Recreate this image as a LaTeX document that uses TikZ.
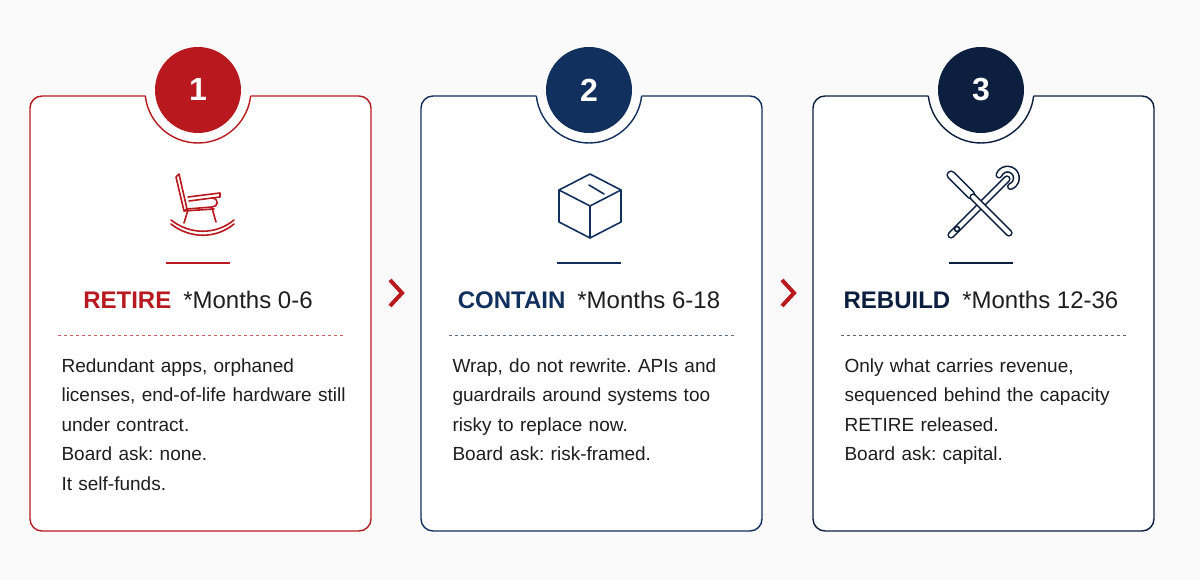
\documentclass[tikz,border=0pt]{standalone}
\usepackage{fontspec}
\setmainfont{Liberation Sans}
\definecolor{retRed}{HTML}{B8191E}
\definecolor{conBlue}{HTML}{12305E}
\definecolor{rebBlue}{HTML}{0C1F3E}
\definecolor{bodyGray}{HTML}{1E1E1E}
\definecolor{pageBg}{HTML}{FAFAFB}
\frenchspacing
\begin{document}
\begin{tikzpicture}[x=1pt,y=1pt,
  card/.style={line width=1.4pt, fill=white},
  badge/.style={circle, minimum size=86pt, inner sep=0pt, text=white, font=\fontsize{32}{32}\selectfont\bfseries},
  heading/.style={font=\fontsize{24}{28}\selectfont},
  body/.style={anchor=north west, align=left, text width=320pt, text=bodyGray, font=\fontsize{19}{29.5}\selectfont},
  icon/.style={line width=1.6pt, line join=round, line cap=round}]
\useasboundingbox[fill=pageBg] (0,0) rectangle (1200,580);

% les trois cartes
\foreach \L/\C/\N/\T/\M/\B in {%
  30/retRed/1/RETIRE/0-6/{Redundant apps, orphaned\\licenses, end-of-life hardware still\\under contract.\\Board ask: none.\\It self-funds.},%
  421/conBlue/2/CONTAIN/6-18/{Wrap, do not rewrite. APIs and\\guardrails around systems too\\risky to replace now.\\Board ask: risk-framed.},%
  813/rebBlue/3/REBUILD/12-36/{Only what carries revenue,\\sequenced behind the capacity\\RETIRE released.\\Board ask: capital.}%
}{
  \pgfmathsetmacro\cx{\L+168}
  \pgfmathsetmacro\R{\L+341}
  % contour avec encoche
  \fill[white, rounded corners=12] (\L,49) rectangle (\R,484);
  \draw[\C, line width=1.4pt, rounded corners=12] (\cx+52.7,484) -- (\R,484) -- (\R,49) -- (\L,49) -- (\L,484) -- (\cx-52.7,484);
  \draw[\C, line width=1.4pt] (\cx-52.7,484) arc(186.5:353.5:53);
  \node[badge, fill=\C] (badge\N) at (\cx,490) {\N};
  % soulignement de l'icone
  \draw[\C, line width=2.4pt] (\cx-32,317) -- (\cx+32,317);
  \node[heading] (head\N) at (\cx,280) {\textcolor{\C}{\bfseries\T}\hspace{0.5em}\textcolor{bodyGray}{*Months \M}};
  \draw[\C!70, line width=0.8pt, dash pattern=on 3pt off 3pt] (\L+28,245) -- (\R-28,245);
  \node[body] (body\N) at (\L+28,225) {\B};
}

% fleches entre cartes
\foreach \x in {390,782}{
  \draw[retRed, line width=4pt] (\x,300) -- (\x+12,287) -- (\x,274);
}

% icone fauteuil
\begin{scope}[shift={(198,375)}, retRed, icon]
  \draw (-22,28) -- (-19,31) -- (-11,-4) -- (-14,-6) -- cycle;
  \draw (-10,8) -- (22,12) -- (22,8) -- (-9,4);
  \draw (-11,-4) -- (14,-2) .. controls (20,-2) and (22,6) .. (14,7);
  \draw (-14,-6) -- (16,-4);
  \draw (-10,-5) -- (-14,-18) (14,-3) -- (18,-17);
  \draw (-27,-15) .. controls (-8,-30) and (18,-30) .. (36,-15);
  \draw (-27,-19) .. controls (-8,-34) and (18,-34) .. (36,-19);
\end{scope}

% icone boite
\begin{scope}[shift={(590,375)}, conBlue, icon]
  \draw (0,31) -- (-31,15) -- (0,-1) -- (31,15) -- cycle;
  \draw (-31,15) -- (-31,-17) -- (0,-33) -- (31,-17) -- (31,15);
  \draw (0,-1) -- (0,-33);
  \draw (-1,20) -- (14,11);
\end{scope}

% icone outils
\begin{scope}[shift={(981,375)}, rebBlue, icon]
  \draw[double=white, double distance=4pt] (-30,-30) -- (26,26);
  \draw (-24,-24) circle (2.5);
  \draw[double=white, double distance=4pt] (26,26) ++(-8,4) arc(160:-70:9);
  \draw[double=white, double distance=6pt] (-30,30) -- (-10,10);
  \draw[double=white, double distance=4pt] (-8,8) -- (28,-28);
\end{scope}
\end{tikzpicture}
\end{document}
